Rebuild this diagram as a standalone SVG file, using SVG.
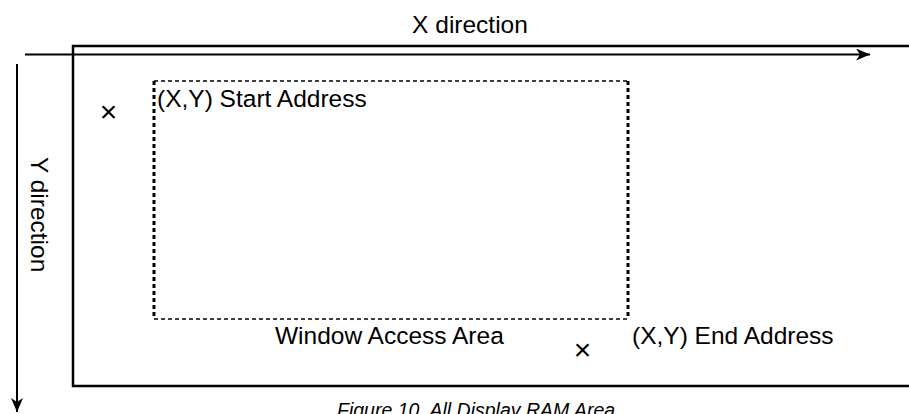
<svg xmlns="http://www.w3.org/2000/svg" width="909" height="414" viewBox="0 0 909 414">
<style>
.t{font-family:"Liberation Sans",Arial,sans-serif;font-size:24.5px;fill:#000}
.x{font-family:"Liberation Sans",Arial,sans-serif;font-size:30px;fill:#000}
.cap{font-family:"Liberation Sans",Arial,sans-serif;font-size:19.5px;font-style:italic;fill:#000}
.ln{stroke:#000;stroke-width:2.5;fill:none}
.thin{stroke:#000;stroke-width:2;fill:none}
</style>
<defs>
<marker id="ah" viewBox="0 0 14 12" refX="14" refY="6" markerWidth="14" markerHeight="12" markerUnits="userSpaceOnUse" orient="auto">
<path d="M0,0 L14,6 L0,12 L4,6 Z" fill="#000"/>
</marker>
</defs>
<rect width="909" height="414" fill="#fff"/>
<g id="ram-area">
<path class="ln" d="M920,46 H73 V386 H920"/>
</g>
<g id="window-area">
<path d="M154,81 H628 M154,319 H628" stroke="#000" stroke-width="1.5" stroke-dasharray="4,3" fill="none"/>
<path d="M154,81 V319 M628,81 V319" stroke="#000" stroke-width="3" stroke-dasharray="4,3" fill="none"/>
<text class="t" x="275" y="344">Window Access Area</text>
</g>
<g id="start-address">
<text class="x" x="108.5" y="121.5" text-anchor="middle">×</text>
<text class="t" x="157" y="107">(X,Y) Start Address</text>
</g>
<g id="end-address">
<text class="x" x="582.5" y="360" text-anchor="middle">×</text>
<text class="t" x="632" y="344">(X,Y) End Address</text>
</g>
<g id="connectors">
<line class="thin" x1="25" y1="54.5" x2="870" y2="54.5" marker-end="url(#ah)"/>
<line class="thin" x1="17" y1="64" x2="17" y2="412" marker-end="url(#ah)"/>
</g>
<g id="labels">
<text class="t" x="470" y="33" text-anchor="middle">X direction</text>
<text class="t" transform="translate(31,157) rotate(90)">Y direction</text>
<text class="cap" x="337" y="417" xml:space="preserve">Figure 10  All Display RAM Area</text>
</g>
</svg>
